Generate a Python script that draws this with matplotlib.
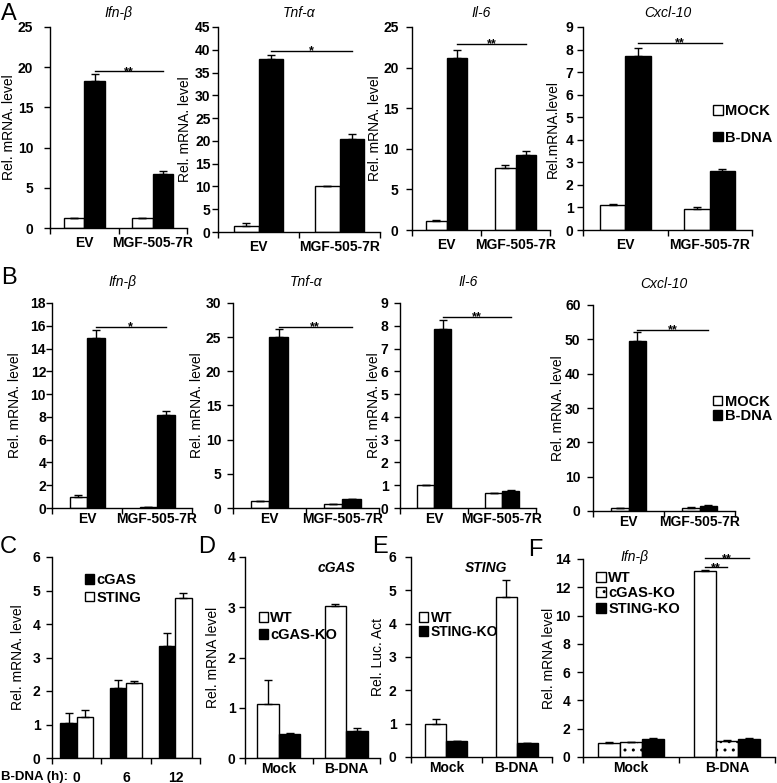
import matplotlib
matplotlib.use("Agg")
import matplotlib.pyplot as plt
from matplotlib.patches import Patch
import numpy as np

W, H = 777, 783

plt.rcParams["font.family"] = ["Liberation Sans", "DejaVu Sans"]
plt.rcParams["hatch.linewidth"] = 1.0
plt.rcParams["axes.linewidth"] = 1.0

# ---- data ----
ab_groups = ["EV", "MGF-505-7R"]
ab_genes = ["Ifn-β", "Tnf-α", "Il-6", "Cxcl-10"]

a_mock = [[1.2, 1.2], [1.3, 10.0], [1.1, 7.6], [1.1, 0.95]]
a_mock_err = [[0.0, 0.0], [0.6, 0.0], [0.1, 0.4], [0.05, 0.05]]
a_bdna = [[18.3, 6.7], [38.0, 20.5], [21.2, 9.2], [7.7, 2.6]]
a_bdna_err = [[0.9, 0.4], [0.8, 1.1], [1.0, 0.5], [0.35, 0.12]]
a_ymax = [25, 45, 25, 9]
a_ystep = [5, 5, 5, 1]
a_sig_level = [19.5, 39.7, 22.9, 8.3]
a_sig_mark = ["**", "*", "**", "**"]

b_mock = [[1.0, 0.05], [1.0, 0.6], [1.0, 0.65], [0.8, 1.0]]
b_mock_err = [[0.15, 0.0], [0.0, 0.0], [0.03, 0.0], [0.0, 0.05]]
b_bdna = [[14.9, 8.2], [25.0, 1.3], [7.85, 0.75], [49.5, 1.5]]
b_bdna_err = [[0.7, 0.35], [1.2, 0.0], [0.4, 0.03], [2.5, 0.2]]
b_ymax = [18, 30, 9, 60]
b_ystep = [2, 5, 1, 10]
b_sig_level = [15.9, 26.5, 8.4, 52.7]
b_sig_mark = ["*", "**", "**", "**"]

c_hours = ["0", "6", "12"]
c_cgas = [1.05, 2.1, 3.33]
c_cgas_err = [0.3, 0.22, 0.4]
c_sting = [1.22, 2.25, 4.78]
c_sting_err = [0.22, 0.05, 0.15]

de_groups = ["Mock", "B-DNA"]
d_wt = [1.07, 3.02]
d_wt_err = [0.48, 0.05]
d_ko = [0.48, 0.53]
d_ko_err = [0.02, 0.06]

e_wt = [1.0, 4.8]
e_wt_err = [0.13, 0.5]
e_ko = [0.47, 0.43]
e_ko_err = [0.0, 0.0]

f_wt = [1.0, 13.15]
f_wt_err = [0.05, 0.08]
f_cgas_ko = [1.05, 1.15]
f_cgas_ko_err = [0.03, 0.05]
f_sting_ko = [1.3, 1.3]
f_sting_ko_err = [0.05, 0.07]
f_sig_level = [14.05, 13.4]

# ---- layout in pixels: (left, top, right, bottom) ----
A_BOXES = [(50, 27, 187, 228), (218, 27, 380, 232), (412, 27, 550, 230), (583, 27, 752, 230)]
B_BOXES = [(52, 303, 192, 508), (233, 303, 379, 508), (400, 303, 536, 508), (593, 305, 735, 511)]
A_YPAD = [8.0, 1.4, 5.8, 2.9]
B_YPAD = [0.3, 4.5, 4.3, 5.0]
A_YLABEL_X = [9, 185, 375, 553]
B_YLABEL_X = [15, 197, 374, 558]

ERR_KW = dict(capsize=3, elinewidth=1, capthick=1, ecolor="black")


def px_axes(fig, box):
    left, top, right, bottom = box
    return fig.add_axes([left / W, 1 - bottom / H, (right - left) / W, (bottom - top) / H])


def style_axes(ax, labels, ymax, ystep, ypad, xpad):
    n = len(labels)
    ax.set_xlim(-0.5, n - 0.5)
    ax.set_ylim(0, ymax)
    ax.set_yticks(np.arange(0, ymax + ystep * 0.5, ystep))
    ax.set_xticks(range(n), labels)
    ax.set_xticks(np.arange(-0.5, n), minor=True)
    ax.tick_params(axis="x", which="major", length=0, pad=xpad, labelsize=10)
    ax.tick_params(axis="x", which="minor", length=4, width=1)
    ax.tick_params(axis="y", length=4, width=1, pad=ypad, labelsize=10)
    ax.spines["top"].set_visible(False)
    ax.spines["right"].set_visible(False)
    for label in ax.get_xticklabels() + ax.get_yticklabels():
        label.set_fontweight("bold")


def ylabel(fig, box, x, text):
    yc = (box[1] + box[3]) / 2
    fig.text(x / W, 1 - yc / H, text, rotation=90, ha="center", va="center", fontsize=10)


def bars(ax, x, values, errors, width, color, hatch=None):
    values = np.asarray(values, dtype=float)
    errors = np.asarray(errors, dtype=float)
    return ax.bar(x, values, width, color=color, edgecolor="black", linewidth=1,
                  hatch=hatch, yerr=[np.zeros_like(errors), errors], error_kw=ERR_KW)


def sig_line(ax, x0, x1, level, mark):
    ax.plot([x0, x1], [level, level], color="black", linewidth=1, clip_on=False)
    ax.annotate(mark, ((x0 + x1) / 2, level), xytext=(0, -2.5), textcoords="offset points",
                ha="center", va="baseline", fontsize=9, fontweight="bold",
                annotation_clip=False)


def square_legend(ax, colors, labels, anchor, spacing, fontsize=10.5, hatches=None):
    hatches = hatches or [None] * len(colors)
    handles = [Patch(facecolor=c, edgecolor="black", linewidth=1, hatch=h)
               for c, h in zip(colors, hatches)]
    leg = ax.legend(handles, labels, loc="upper left", bbox_to_anchor=anchor,
                    frameon=False, handlelength=0.65, handleheight=0.65,
                    handletextpad=0.15, borderpad=0, borderaxespad=0,
                    labelspacing=spacing, prop=dict(size=fontsize, weight="bold"))
    return leg


fig = plt.figure(figsize=(W / 100, H / 100), dpi=100)

# ---- rows A and B ----
rows = [
    (A_BOXES, A_YPAD, A_YLABEL_X, a_mock, a_mock_err, a_bdna, a_bdna_err, a_ymax,
     a_ystep, a_sig_level, a_sig_mark, 0.30, 6.0, 7),
    (B_BOXES, B_YPAD, B_YLABEL_X, b_mock, b_mock_err, b_bdna, b_bdna_err, b_ymax,
     b_ystep, b_sig_level, b_sig_mark, 0.25, 3.0, 12),
]
for r, (boxes, ypads, ylx, mock, mock_err, bdna, bdna_err, ymax, ystep, sig_level,
        sig_mark, width, xpad, tpad) in enumerate(rows):
    for i, box in enumerate(boxes):
        ax = px_axes(fig, box)
        x = np.arange(len(ab_groups))
        bars(ax, x - width / 2, mock[i], mock_err[i], width, "white")
        bars(ax, x + width / 2, bdna[i], bdna_err[i], width, "black")
        sig_line(ax, width / 2, 1 + width / 2, sig_level[i], sig_mark[i])
        style_axes(ax, ab_groups, ymax[i], ystep[i], ypads[i], xpad)
        ax.set_title(ab_genes[i], fontsize=10, style="italic", pad=tpad)
        label = "Rel.mRNA.level" if (r == 0 and i == 3) else "Rel. mRNA. level"
        ylabel(fig, box, ylx[i], label)
        if i == 3:
            if r == 0:
                square_legend(ax, ["white", "black"], ["MOCK", "B-DNA"], (0.77, 0.62), 0.85)
            else:
                square_legend(ax, ["white", "black"], ["MOCK", "B-DNA"], (0.845, 0.565), 0.05)

# ---- panel C ----
C_BOX = (52, 557, 200, 758)
ax = px_axes(fig, C_BOX)
w = 0.33
x = np.arange(len(c_hours))
bars(ax, x - w / 2, c_cgas, c_cgas_err, w, "black")
bars(ax, x + w / 2, c_sting, c_sting_err, w, "white")
style_axes(ax, c_hours, 6, 1, 4.3, 9)
square_legend(ax, ["black", "white"], ["cGAS", "STING"], (0.22, 0.92), 0.25)
ylabel(fig, C_BOX, 18, "Rel. mRNA. level")
fig.text(1 / W, 1 - 777 / H, "B-DNA (h):", ha="left", va="center", fontsize=9.5,
         fontweight="bold")

# ---- panel D ----
D_BOX = (245, 557, 380, 758)
ax = px_axes(fig, D_BOX)
w = 0.32
x = np.arange(len(de_groups))
bars(ax, x - w / 2, d_wt, d_wt_err, w, "white")
bars(ax, x + w / 2, d_ko, d_ko_err, w, "black")
style_axes(ax, de_groups, 4, 1, 2.9, 3)
ax.text(0.68, 0.945, "cGAS", transform=ax.transAxes, ha="center", va="center",
        fontsize=10, style="italic", fontweight="bold")
square_legend(ax, ["white", "black"], ["WT", "cGAS-KO"], (0.1, 0.73), 0.2)
ylabel(fig, D_BOX, 213, "Rel. mRNA level")

# ---- panel E ----
E_BOX = (411, 557, 552, 757)
ax = px_axes(fig, E_BOX)
w = 0.30
bars(ax, x - w / 2, e_wt, e_wt_err, w, "white")
bars(ax, x + w / 2, e_ko, e_ko_err, w, "black")
style_axes(ax, de_groups, 6, 1, 6.5, 3)
ax.text(0.53, 0.945, "STING", transform=ax.transAxes, ha="center", va="center",
        fontsize=10, style="italic", fontweight="bold")
square_legend(ax, ["white", "black"], ["WT", "STING-KO"], (0.06, 0.73), 0.0, fontsize=10)
ylabel(fig, E_BOX, 378, "Rel. Luc. Act")

# ---- panel F ----
F_BOX = (583, 559, 775, 757)
ax = px_axes(fig, F_BOX)
w = 0.23
bars(ax, x - w, f_wt, f_wt_err, w, "white")
bars(ax, x, f_cgas_ko, f_cgas_ko_err, w, "white", hatch="..")
bars(ax, x + w, f_sting_ko, f_sting_ko_err, w, "black")
style_axes(ax, de_groups, 14, 2, 5.0, 3)
sig_line(ax, 1 - w, 1 + w, f_sig_level[0], "**")
sig_line(ax, 1 - w, 1, f_sig_level[1], "**")
ax.text(0.27, 1.01, "Ifn-β", transform=ax.transAxes, ha="center", va="center",
        fontsize=10, style="italic")
square_legend(ax, ["white", "white", "black"], ["WT", "cGAS-KO", "STING-KO"],
              (0.07, 0.94), 0.1, hatches=[None, "..", None])
ylabel(fig, F_BOX, 549, "Rel. mRNA level")

# ---- panel letters ----
for letter, (lx, ly) in zip("ABCDEF", [(1, 3), (1, 267), (0, 536), (198, 536),
                                        (372, 536), (528, 539)]):
    fig.text(lx / W, 1 - ly / H, letter, ha="left", va="top", fontsize=17)

fig.savefig("out.png", dpi=100)
